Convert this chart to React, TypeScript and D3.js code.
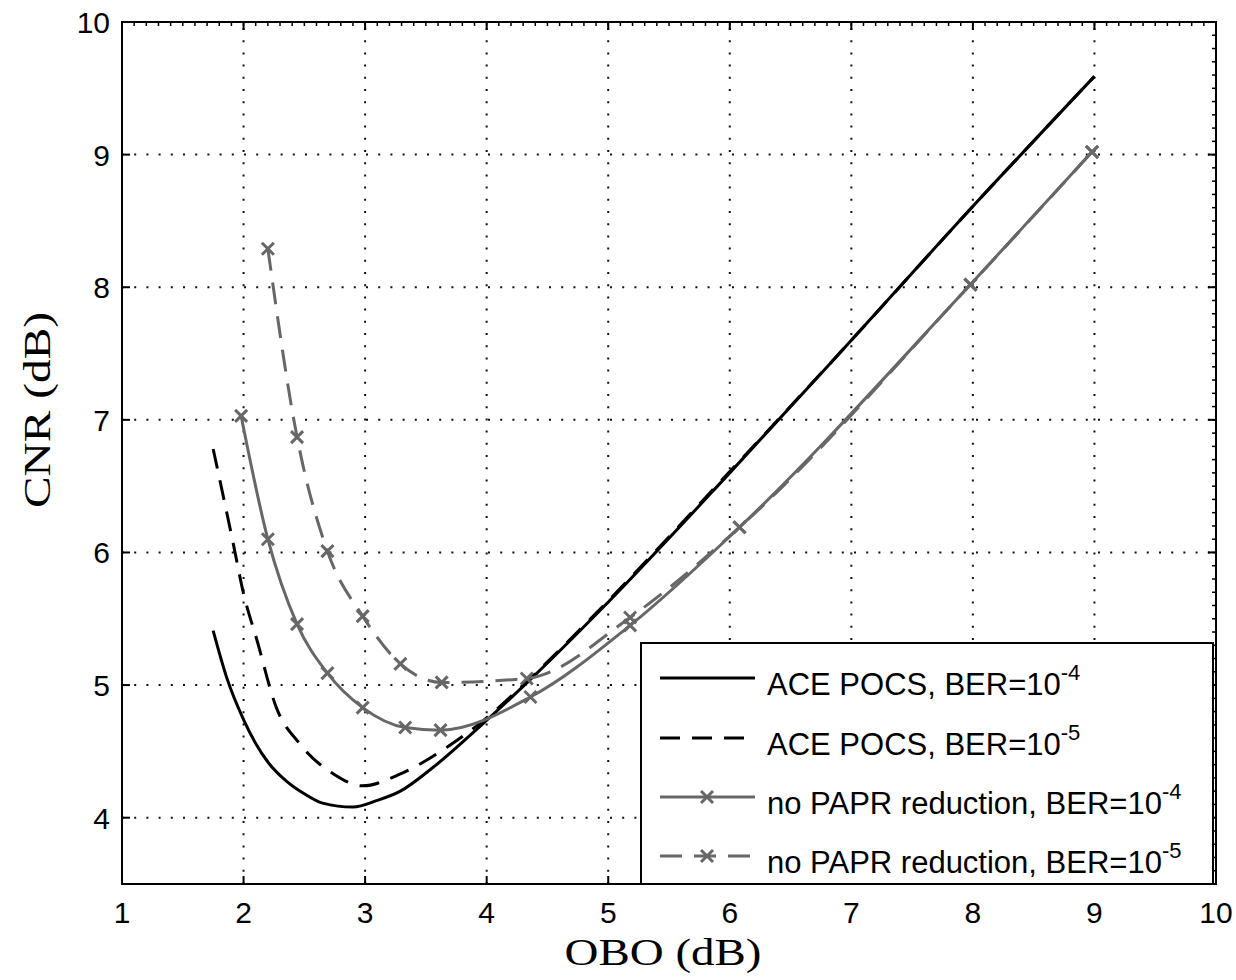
import React from "react";
import * as d3 from "d3";

const xTicks = [1, 2, 3, 4, 5, 6, 7, 8, 9, 10];
const yTicks = [4, 5, 6, 7, 8, 9, 10];

const aceBer4: [number, number][] = [
  [1.75, 5.41], [1.86, 5.06], [2.0, 4.74], [2.1, 4.56], [2.2, 4.42], [2.36, 4.27], [2.5, 4.18],
  [2.65, 4.11], [2.9, 4.08], [3.1, 4.13], [3.29, 4.2], [3.56, 4.38], [3.97, 4.71],
  [4.38, 5.06], [4.93, 5.56], [6.0, 6.6], [7.0, 7.6], [7.97, 8.58], [9.0, 9.59],
];
const aceBer5: [number, number][] = [
  [1.75, 6.78], [1.91, 6.09], [2.0, 5.69], [2.11, 5.34], [2.27, 4.83], [2.46, 4.56],
  [2.74, 4.33], [2.98, 4.24], [3.29, 4.33], [3.67, 4.53], [3.97, 4.73], [4.38, 5.07],
  [4.93, 5.57], [6.0, 6.61], [7.0, 7.6], [7.97, 8.58], [9.0, 9.59],
];
const noPaprBer4: [number, number][] = [
  [1.98, 7.03], [2.2, 6.1], [2.44, 5.46], [2.69, 5.09], [2.98, 4.83], [3.33, 4.68],
  [3.62, 4.66], [4.36, 4.91], [5.18, 5.45], [6.08, 6.19], [7.98, 8.02], [8.98, 9.02],
];
const noPaprBer5: [number, number][] = [
  [2.2, 8.29], [2.44, 6.87], [2.69, 6.01], [2.98, 5.52], [3.29, 5.16], [3.63, 5.02],
  [4.33, 5.05], [5.18, 5.51], [6.08, 6.19], [7.98, 8.02], [8.98, 9.02],
];

const legendLabels = [
  { text: "ACE POCS, BER=10", sup: "-4" },
  { text: "ACE POCS, BER=10", sup: "-5" },
  { text: "no PAPR reduction, BER=10", sup: "-4" },
  { text: "no PAPR reduction, BER=10", sup: "-5" },
];

const L = 122, R = 1216, T = 22, B = 884;
const GRAY = "#676767";

export default function App() {
  const x = d3.scaleLinear().domain([1, 10]).range([L, R]);
  const y = d3.scaleLinear().domain([3.5, 10]).range([B, T]);
  const line = d3
    .line<[number, number]>()
    .x((d) => x(d[0]))
    .y((d) => y(d[1]))
    .curve(d3.curveMonotoneX);

  const series = [
    { data: aceBer4, color: "#000", dash: undefined as string | undefined, marker: false },
    { data: aceBer5, color: "#000", dash: "20,12", marker: false },
    { data: noPaprBer4, color: GRAY, dash: undefined, marker: true },
    { data: noPaprBer5, color: GRAY, dash: "22,12", marker: true },
  ];

  const minorX = d3.range(1, 10.001, 0.1);
  const minorY = d3.range(3.5, 10.001, 0.1);

  const cross = (cx: number, cy: number, c: string, k: string) => (
    <g key={k} stroke={c} strokeWidth={3}>
      <line x1={cx - 6} y1={cy - 6} x2={cx + 6} y2={cy + 6} />
      <line x1={cx - 6} y1={cy + 6} x2={cx + 6} y2={cy - 6} />
    </g>
  );

  const legX = 641, legY = 643, legW = 572, legH = 241;
  const rowY = [678, 738, 797, 856];

  return (
    <svg
      width={1236}
      height={980}
      style={{ position: "absolute", left: 0, top: 0, background: "#fff" }}
      fontFamily="'Liberation Sans', Arial, sans-serif"
    >
      <rect x={0} y={0} width={1236} height={980} fill="#fff" />
      {/* grid */}
      <g stroke="#111" strokeWidth={2} strokeDasharray="2,10.2">
        {xTicks.slice(1, -1).map((t) => (
          <line key={"gx" + t} x1={x(t)} x2={x(t)} y1={B} y2={T} />
        ))}
        {yTicks.slice(0, -1).map((t) => (
          <line key={"gy" + t} x1={L} x2={R} y1={y(t)} y2={y(t)} />
        ))}
      </g>
      {/* series */}
      {series.map((s, i) => (
        <path
          key={"s" + i}
          d={line(s.data) || ""}
          fill="none"
          stroke={s.color}
          strokeWidth={3}
          strokeDasharray={s.dash}
        />
      ))}
      {series.map((s, i) =>
        s.marker ? s.data.map((d, j) => cross(x(d[0]), y(d[1]), s.color, `m${i}-${j}`)) : null
      )}
      {/* axes box */}
      <rect x={L} y={T} width={R - L} height={B - T} fill="none" stroke="#000" strokeWidth={2} />
      {/* major ticks */}
      <g stroke="#000" strokeWidth={2}>
        {xTicks.map((t) => (
          <g key={"tx" + t}>
            <line x1={x(t)} x2={x(t)} y1={B} y2={B - 8} />
            <line x1={x(t)} x2={x(t)} y1={T} y2={T + 8} />
          </g>
        ))}
        {yTicks.map((t) => (
          <g key={"ty" + t}>
            <line x1={L} x2={L + 8} y1={y(t)} y2={y(t)} />
            <line x1={R} x2={R - 8} y1={y(t)} y2={y(t)} />
          </g>
        ))}
      </g>
      {/* minor ticks on top and right */}
      <g stroke="#000" strokeWidth={1.5}>
        {minorX.map((t, i) => (
          <line key={"mx" + i} x1={x(t)} x2={x(t)} y1={T} y2={T + 4} />
        ))}
        {minorY.map((t, i) => (
          <line key={"my" + i} x1={R} x2={R - 4} y1={y(t)} y2={y(t)} />
        ))}
      </g>
      {/* tick labels */}
      <g fontSize={30} fill="#000">
        {xTicks.map((t) => (
          <text key={"lx" + t} x={x(t)} y={923} textAnchor="middle">
            {t}
          </text>
        ))}
        {yTicks.map((t) => (
          <text key={"ly" + t} x={110} y={y(t) + 11} textAnchor="end">
            {t}
          </text>
        ))}
      </g>
      {/* axis labels */}
      <text
        x={663}
        y={965}
        textAnchor="middle"
        fontFamily="'Liberation Serif', 'Times New Roman', serif"
        fontSize={38}
        textLength={197}
        lengthAdjust="spacingAndGlyphs"
      >
        OBO (dB)
      </text>
      <text
        transform="translate(50,410) rotate(-90)"
        textAnchor="middle"
        fontFamily="'Liberation Serif', 'Times New Roman', serif"
        fontSize={38}
        textLength={196}
        lengthAdjust="spacingAndGlyphs"
      >
        CNR (dB)
      </text>
      {/* legend */}
      <rect x={legX} y={legY} width={legW} height={legH} fill="#fff" stroke="#000" strokeWidth={2} />
      {series.map((s, i) => (
        <g key={"lg" + i}>
          <line
            x1={660}
            x2={755}
            y1={rowY[i]}
            y2={rowY[i]}
            stroke={s.color}
            strokeWidth={3}
            strokeDasharray={s.dash}
          />
          {s.marker ? cross(707, rowY[i], s.color, "lm" + i) : null}
          <text x={767} y={rowY[i] + 17} fontSize={31}>
            {legendLabels[i].text}
            <tspan fontSize={22} dy={-15}>
              {legendLabels[i].sup}
            </tspan>
          </text>
        </g>
      ))}
    </svg>
  );
}
